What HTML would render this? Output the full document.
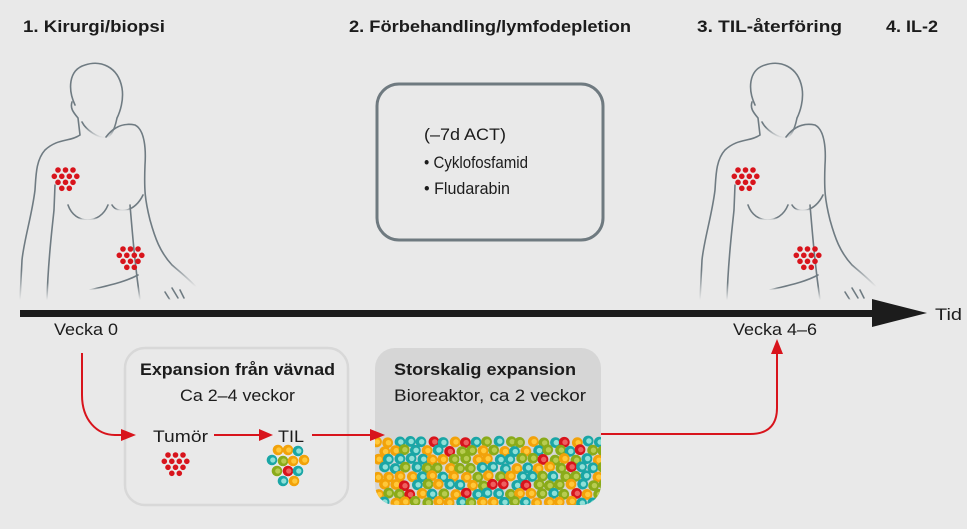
<!DOCTYPE html>
<html><head><meta charset="utf-8"><style>
html,body{margin:0;padding:0;background:#e9e9e9;}
svg{display:block;font-family:"Liberation Sans",sans-serif;}
</style></head><body>
<svg id="s" width="967" height="529" viewBox="0 0 967 529" xmlns="http://www.w3.org/2000/svg">
<defs>
<linearGradient id="fade" x1="0" y1="0" x2="0" y2="1">
<stop offset="0.85" stop-color="#6f7b82" stop-opacity="1"/><stop offset="1" stop-color="#6f7b82" stop-opacity="0"/></linearGradient>
<g id="fig" fill="none" stroke="url(#fade)" stroke-width="1.6" stroke-linecap="round">
<path d="M75,105 C68,90 68,70 85,65 C100,60 118,66 122,88 C124,100 120,112 117,118 C115,128 112,136 106,138 C98,138 86,130 82,122"/>
<path d="M72,102 C70,108 73,112 78,118 L80,135 C70,142 58,138 45,150 C36,160 36,175 35,190 C32,215 24,240 22,260 L20,300"/>
<path d="M106,137 C115,125 125,123 135,125 C145,130 146,150 145,165 C144,190 145,200 150,220 C155,238 160,252 172,265 C180,272 190,280 196,287"/>
<path d="M55,185 L54,210 C52,230 48,260 47,300"/>
<path d="M68,205 C75,225 100,225 108,205"/>
<path d="M112,205 C118,215 135,212 143,195"/>
<path d="M130,205 C133,240 135,265 140,300"/>
<path d="M90,290 C110,285 125,282 138,275"/>
<path d="M165,292 L170,300 M172,288 L178,298 M180,290 L184,298"/>
</g>
<g id="clu" fill="#d8141c">
<circle cx="0" cy="0" r="2.8"/><circle cx="7.5" cy="0" r="2.8"/><circle cx="15" cy="0" r="2.8"/>
<circle cx="-3.7" cy="6.3" r="2.8"/><circle cx="3.8" cy="6.3" r="2.8"/><circle cx="11.3" cy="6.3" r="2.8"/><circle cx="18.8" cy="6.3" r="2.8"/>
<circle cx="0" cy="12.3" r="2.8"/><circle cx="7.5" cy="12.3" r="2.8"/><circle cx="15" cy="12.3" r="2.8"/>
<circle cx="3.8" cy="18.3" r="2.8"/><circle cx="11.3" cy="18.3" r="2.8"/>
</g>
<clipPath id="bc"><rect x="375" y="348" width="226" height="157" rx="20"/></clipPath>
</defs>
<rect width="967" height="529" fill="#e9e9e9"/>
<g font-weight="bold" font-size="17" fill="#1c1c1c">
<text x="23" y="32" textLength="142" lengthAdjust="spacingAndGlyphs">1. Kirurgi/biopsi</text>
<text x="349" y="32" textLength="282" lengthAdjust="spacingAndGlyphs">2. Förbehandling/lymfodepletion</text>
<text x="697" y="32" textLength="145" lengthAdjust="spacingAndGlyphs">3. TIL-återföring</text>
<text x="886" y="32" textLength="52" lengthAdjust="spacingAndGlyphs">4. IL-2</text>
</g>
<use href="#fig"/>
<use href="#fig" transform="translate(680,0)"/>
<use href="#clu" x="58" y="170"/>
<use href="#clu" x="123" y="249"/>
<use href="#clu" x="738" y="170"/>
<use href="#clu" x="800" y="249"/>
<rect x="377" y="84" width="226" height="156" rx="22" fill="none" stroke="#6f7a80" stroke-width="3"/>
<g font-size="17" fill="#1c1c1c">
<text x="424" y="140" textLength="82" lengthAdjust="spacingAndGlyphs">(–7d ACT)</text>
<text x="424" y="168" textLength="104" lengthAdjust="spacingAndGlyphs">• Cyklofosfamid</text>
<text x="424" y="194" textLength="86" lengthAdjust="spacingAndGlyphs">• Fludarabin</text>
</g>
<rect x="20" y="310" width="856" height="7" fill="#1c1c1c"/>
<polygon points="872,299 927,313 872,327" fill="#1c1c1c"/>
<g font-size="17" fill="#1c1c1c">
<text x="935" y="320" textLength="27" lengthAdjust="spacingAndGlyphs">Tid</text>
<text x="54" y="335" textLength="64" lengthAdjust="spacingAndGlyphs">Vecka 0</text>
<text x="733" y="335" textLength="84" lengthAdjust="spacingAndGlyphs">Vecka 4–6</text>
</g>
<rect x="125" y="348" width="223" height="157" rx="20" fill="none" stroke="#d8d8d8" stroke-width="2.5"/>
<rect x="375" y="348" width="226" height="157" rx="20" fill="#d6d6d6"/>
<g id="cells" clip-path="url(#bc)"></g>
<g font-size="17" fill="#1c1c1c">
<text x="140" y="375" font-weight="bold" textLength="195" lengthAdjust="spacingAndGlyphs">Expansion från vävnad</text>
<text x="180" y="401" textLength="115" lengthAdjust="spacingAndGlyphs">Ca 2–4 veckor</text>
<text x="394" y="375" font-weight="bold" textLength="182" lengthAdjust="spacingAndGlyphs">Storskalig expansion</text>
<text x="394" y="401" textLength="192" lengthAdjust="spacingAndGlyphs">Bioreaktor, ca 2 veckor</text>
<text x="153" y="442" textLength="55" lengthAdjust="spacingAndGlyphs">Tumör</text>
<text x="278" y="442" textLength="26" lengthAdjust="spacingAndGlyphs">TIL</text>
</g>
<g fill="none" stroke="#d8141c" stroke-width="2">
<path d="M82,353 L82,395 C82,420 97,435 115,435 L125,435"/>
<line x1="214" y1="435" x2="262" y2="435"/>
<line x1="312" y1="435" x2="372" y2="435"/>
<path d="M601,434 L750,434 C768,434 777,425 777,408 L777,352"/>
</g>
<g fill="#d8141c">
<polygon points="121,429 136,435 121,441"/>
<polygon points="259,429 273,435 259,441"/>
<polygon points="370,429 385,435 370,441"/>
<polygon points="771,354 777,339 783,354"/>
</g>
<use href="#clu" x="168" y="455"/>
<g id="til"></g>
</svg>
<script>
var cols=["#f2a20a","#1aa6a6","#8aab1a","#d8141c"];
var inner={"#f2a20a":"#ffc83a","#d8141c":"#ee6060","#1aa6a6":"#8fe0d8","#8aab1a":"#b8cc50"};
var seed=11;function r(){seed=(seed*16807)%2147483647;return seed/2147483647;}
var ns="http://www.w3.org/2000/svg";
function cell(g,x,y,rad,c){if(!c){var v=r();c=v<0.1?cols[3]:(v<0.43?cols[0]:(v<0.72?cols[1]:cols[2]));}
var a=document.createElementNS(ns,"circle");a.setAttribute("cx",x);a.setAttribute("cy",y);a.setAttribute("r",rad);a.setAttribute("fill",c);g.appendChild(a);
var b=document.createElementNS(ns,"circle");b.setAttribute("cx",x+0.8);b.setAttribute("cy",y);b.setAttribute("r",rad*0.5);b.setAttribute("fill",inner[c]);g.appendChild(b);}
var g=document.getElementById("cells");
for(var row=0;row<9;row++){for(var i=0;i<22;i++){var x=378+i*11+(row%2)*5.5+(r()-0.5)*3;var y=442+row*8.6+(r()-0.5)*2;cell(g,x,y,5.4);}}
var t=document.getElementById("til");
var pts=[[278,450,0],[288,450,0],[298,451,1],[272,460,1],[283,461,2],[293,461,0],[304,460,0],[277,471,2],[288,471,3],[298,471,1],[283,481,1],[294,481,0]];
pts.forEach(function(p){cell(t,p[0],p[1],5.3,cols[p[2]]);});
</script>
</body></html>
